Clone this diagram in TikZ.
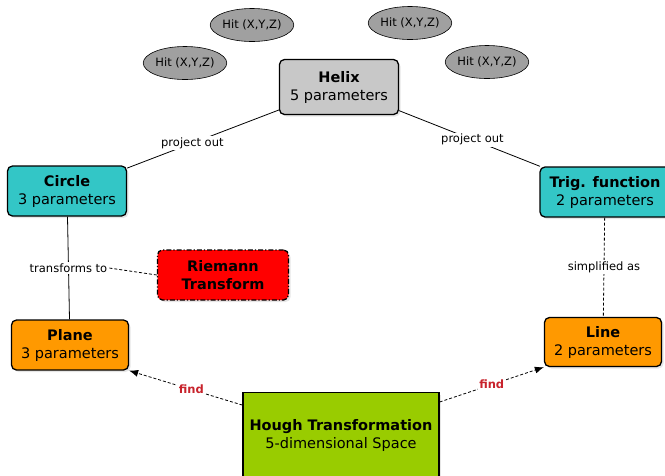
\documentclass[tikz,border=0pt]{standalone}
\usepackage{fontspec}
\setmainfont{DejaVu Sans}
\usetikzlibrary{shapes,arrows.meta,shadows}
\definecolor{helixgray}{HTML}{C8C8C8}
\definecolor{hitgray}{HTML}{A0A0A0}
\definecolor{teal2}{HTML}{33C6C6}
\definecolor{orange2}{HTML}{FF9900}
\definecolor{green2}{HTML}{99CC00}
\definecolor{findred}{HTML}{C8232C}
\newcommand{\BX}[1]{\textbf{#1}}

\begin{document}
\begin{tikzpicture}[x=1pt, y=-1pt,
  box/.style={draw, line width=1.3pt, rounded corners=5pt, align=center,
    inner sep=0pt, font=\fontsize{14.5}{18}\selectfont,
    drop shadow={opacity=0.2, shadow xshift=2pt, shadow yshift=-2pt}},
  hit/.style={draw, ellipse, fill=hitgray, line width=0.6pt, inner sep=0pt,
    minimum width=80pt, minimum height=33pt, font=\fontsize{11.5}{13}\selectfont},
  elabel/.style={fill=white, inner sep=1.5pt, font=\fontsize{11.5}{13}\selectfont},
  findlabel/.style={fill=white, inner sep=1.5pt, text=findred,
    font=\bfseries\fontsize{11.5}{13}\selectfont},
  dashline/.style={dash pattern=on 3pt off 2pt, line width=0.8pt},
  findarrow/.style={dashline, -{Latex[length=9pt, width=7pt]}}]

  \useasboundingbox (0,0) rectangle (665,475);

  %% hits
  \node[hit] (hit1) at (185,63) {Hit (X,Y,Z)};
  \node[hit] (hit2) at (252,25) {Hit (X,Y,Z)};
  \node[hit] (hit3) at (410,23) {Hit (X,Y,Z)};
  \node[hit] (hit4) at (487,62) {Hit (X,Y,Z)};

  %% boxes
  \node[box, fill=helixgray, minimum width=119pt, minimum height=55pt] (helix) at (339,87) {\BX{Helix}\\5 parameters};
  \node[box, fill=teal2, minimum width=119pt, minimum height=50pt] (circle) at (67,191) {\BX{Circle}\\3 parameters};
  \node[box, fill=teal2, minimum width=130pt, minimum height=50pt] (trig) at (605,192) {\BX{Trig. function}\\2 parameters};
  \node[box, fill=red, dash pattern=on 5pt off 2pt on 1.2pt off 2pt, minimum width=131pt, minimum height=50pt] (riemann) at (223,275) {\BX{Riemann}\\\BX{Transform}};
  \node[box, fill=orange2, minimum width=117pt, minimum height=50pt] (plane) at (70,345) {\BX{Plane}\\3 parameters};
  \node[box, fill=orange2, minimum width=117pt, minimum height=49pt] (line) at (603,342) {\BX{Line}\\2 parameters};
  \node[box, fill=green2, rounded corners=0pt, minimum width=196pt, minimum height=85pt] (hough) at (341,435) {\BX{Hough Transformation}\\5-dimensional Space};

  %% connectors
  \draw[line width=0.8pt] (helix) -- node[elabel, pos=0.57]{project out} (circle); %% helix->circle
  \draw[line width=0.8pt] (helix) -- node[elabel, pos=0.52]{project out} (trig); %% helix->trig
  \draw[line width=0.8pt] (circle) -- node[elabel] (tto) {transforms to} (plane); %% circle->plane
  \draw[dashline] (riemann.west) -- (tto.east); %% riemann->label
  \draw[dashline] (trig) -- node[elabel]{simplified as} (line); %% trig->line

  \draw[findarrow] (hough) -- node[findlabel, pos=0.45]{find} (plane.south east); %% hough->plane
  \draw[findarrow] (hough) -- node[findlabel, pos=0.5]{find} (line.south west); %% hough->line
\end{tikzpicture}
\end{document}
